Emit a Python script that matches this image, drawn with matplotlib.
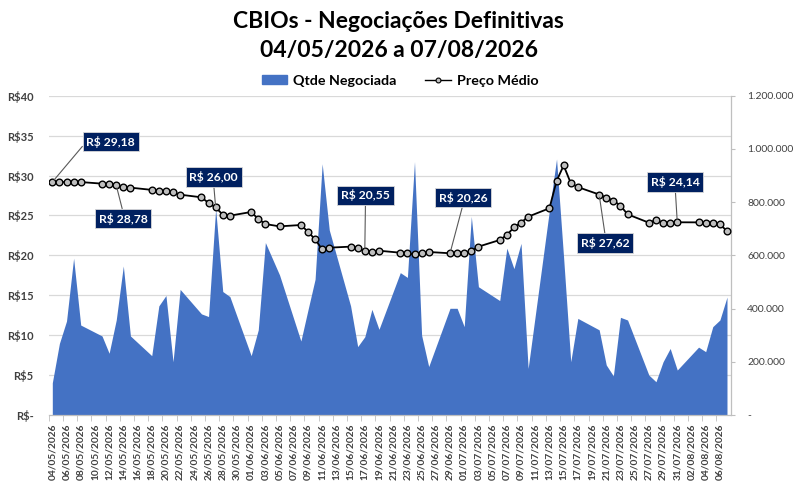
import matplotlib
matplotlib.use("Agg")
import matplotlib.pyplot as plt
import matplotlib.dates as mdates
from matplotlib.patches import Patch
from matplotlib.lines import Line2D
from matplotlib.ticker import FuncFormatter, FixedLocator
import pandas as pd

plt.rcParams["font.family"] = ["Lato", "DejaVu Sans"]

# ── dados ────────────────────────────────────────────────
datas = [
    "04/05/2026", "05/05/2026", "06/05/2026", "07/05/2026", "08/05/2026",
    "11/05/2026", "12/05/2026", "13/05/2026", "14/05/2026", "15/05/2026",
    "18/05/2026", "19/05/2026", "20/05/2026", "21/05/2026", "22/05/2026",
    "25/05/2026", "26/05/2026", "27/05/2026", "28/05/2026", "29/05/2026",
    "01/06/2026", "02/06/2026", "03/06/2026", "05/06/2026",
    "08/06/2026", "09/06/2026", "10/06/2026", "11/06/2026", "12/06/2026",
    "15/06/2026", "16/06/2026", "17/06/2026", "18/06/2026", "19/06/2026",
    "22/06/2026", "23/06/2026", "24/06/2026", "25/06/2026", "26/06/2026",
    "29/06/2026", "30/06/2026", "01/07/2026", "02/07/2026", "03/07/2026",
    "06/07/2026", "07/07/2026", "08/07/2026", "09/07/2026", "10/07/2026",
    "13/07/2026", "14/07/2026", "15/07/2026", "16/07/2026", "17/07/2026",
    "20/07/2026", "21/07/2026", "22/07/2026", "23/07/2026", "24/07/2026",
    "27/07/2026", "28/07/2026", "29/07/2026", "30/07/2026", "31/07/2026",
    "03/08/2026", "04/08/2026", "05/08/2026", "06/08/2026", "07/08/2026",
]

qtde = [
    121000, 269000, 353000, 589000, 338000,
    297000, 232000, 357000, 560000, 297000,
    223000, 410000, 449000, 200000, 472000,
    380000, 370000, 775000, 464000, 445000,
    223000, 320000, 648000, 526000,
    278000, 395000, 510000, 944000, 695000,
    410000, 257000, 294000, 397000, 322000,
    535000, 517000, 952000, 300000, 182000,
    401000, 401000, 332000, 746000, 482000,
    430000, 627000, 550000, 645000, 175000,
    770000, 962000, 590000, 200000, 363000,
    320000, 188000, 147000, 367000, 357000,
    150000, 125000, 200000, 250000, 169000,
    255000, 238000, 332000, 357000, 443000,
]

preco = [
    29.18, 29.18, 29.18, 29.18, 29.18,
    28.98, 28.90, 28.78, 28.50, 28.48,
    28.20, 28.06, 28.06, 27.90, 27.60,
    27.27, 26.56, 26.00, 25.10, 24.97,
    25.43, 24.55, 23.92, 23.63,
    23.80, 22.96, 22.00, 20.75, 20.96,
    21.09, 20.96, 20.55, 20.46, 20.58,
    20.33, 20.25, 20.13, 20.25, 20.42,
    20.26, 20.25, 20.25, 20.54, 21.09,
    21.92, 22.55, 23.50, 24.09, 24.84,
    25.90, 29.30, 31.26, 29.05, 28.55,
    27.62, 27.22, 26.85, 26.22, 25.14,
    24.09, 24.43, 24.09, 24.09, 24.14,
    24.13, 24.09, 24.05, 23.88, 23.05,
]

# datas com rótulo de preço
datas_rotulo = ["04/05/2026", "13/05/2026", "27/05/2026", "17/06/2026",
                "29/06/2026", "20/07/2026", "31/07/2026"]

AZUL = "#4472C4"
NAVY = "#002060"
CINZA_GRADE = "#d9d9d9"
CINZA_TXT = "#404040"

dias = pd.to_datetime(datas, dayfirst=True)
x = mdates.date2num(dias)

fig = plt.figure(figsize=(8.1, 4.82), dpi=100)
ax_q = fig.add_axes([0.0602, 0.139, 0.8417, 0.6625])
ax_p = ax_q.twinx()

# área - quantidade negociada (eixo direito)
for v in range(150000, 1200001, 150000):
    ax_q.axhline(v, color=CINZA_GRADE, lw=0.9, zorder=0.5)
ax_q.fill_between(x, qtde, color=AZUL, lw=0, zorder=1)
ax_q.set_ylim(0, 1200000)
ax_q.yaxis.tick_right()
ax_q.yaxis.set_major_locator(FixedLocator(range(0, 1200001, 200000)))
ax_q.yaxis.set_major_formatter(FuncFormatter(
    lambda v, p: "-" if v == 0 else f"{int(v):,}".replace(",", ".")))
ax_q.tick_params(axis="y", right=True, length=3, color="#bfbfbf", pad=9,
                 labelsize=7.5, labelcolor=CINZA_TXT)

# eixo x por data
ax_q.set_xlim(x[0] - 0.5, x[-1] + 0.5)
ticks = pd.date_range(dias[0], dias[-1], freq="2D")
tk = mdates.date2num(ticks)
ax_q.xaxis.set_major_locator(FixedLocator(tk))
ax_q.xaxis.set_minor_locator(FixedLocator(list(tk - 0.5)))
ax_q.xaxis.set_major_formatter(mdates.DateFormatter("%d/%m/%Y"))
ax_q.tick_params(axis="x", which="major", length=0, pad=6, labelsize=7.3,
                 labelrotation=90, labelcolor=CINZA_TXT)
ax_q.tick_params(axis="x", which="minor", length=4, color="#bfbfbf")
for lab in ax_q.get_xticklabels():
    lab.set_fontweight("bold")

for s in ["top", "left"]:
    ax_q.spines[s].set_visible(False)
for s in ["right", "bottom"]:
    ax_q.spines[s].set_color("#bfbfbf")
    ax_q.spines[s].set_linewidth(0.9)

# linha - preço médio (eixo esquerdo)
ax_p.plot(x, preco, color="black", lw=1.3, marker="o", ms=4.8,
          mfc="#bfbfbf", mec="black", mew=1.0, zorder=3)
ax_p.set_ylim(0, 40)
ax_p.yaxis.tick_left()
ax_p.yaxis.set_major_locator(FixedLocator(range(0, 41, 5)))
ax_p.yaxis.set_major_formatter(FuncFormatter(
    lambda v, p: "R$-" if v == 0 else f"R${int(v)}"))
ax_p.tick_params(axis="y", left=True, right=False, length=0, pad=11,
                 labelsize=8, labelcolor=CINZA_TXT)
for lab in ax_p.get_yticklabels():
    lab.set_fontweight("bold")
for s in ax_p.spines.values():
    s.set_visible(False)

# rótulos de preço
offsets = [(42, 29), (5, -24), (-1.5, 22), (0.5, 40), (9.5, 40),
           (4.5, -35), (-1.5, 29)]
relpos = [(0, 0.5), (0.5, 1), (0.5, 0), (0.5, 0), (0.5, 0), (0.5, 1),
          (0.5, 0)]
for d, off, rp in zip(datas_rotulo, offsets, relpos):
    i = datas.index(d)
    txt = f"R$ {preco[i]:.2f}".replace(".", ",")
    ax_p.annotate(txt, xy=(x[i], preco[i]), xytext=off,
                  textcoords="offset points", ha="center", va="center",
                  color="white", fontsize=8.7, fontweight="bold", zorder=5,
                  bbox=dict(boxstyle="square,pad=0.3", fc=NAVY,
                            ec="#d9d9d9", lw=0.6),
                  arrowprops=dict(arrowstyle="-", color="#595959", lw=0.8,
                                  relpos=rp, shrinkA=0, shrinkB=2))

# título
fig.text(0.492, 1 - 22 / 482, "CBIOs - Negociações Definitivas",
         ha="center", va="center", fontsize=16.5, fontweight="bold",
         color="black")
fig.text(0.492, 1 - 50 / 482, "04/05/2026 a 07/08/2026",
         ha="center", va="center", fontsize=16.5, fontweight="bold",
         color="black")

# legenda
handles = [Patch(facecolor=AZUL, edgecolor=AZUL),
           Line2D([], [], color="black", lw=1, marker="o", ms=3.5,
                  mfc="#bfbfbf", mec="black", mew=0.8)]
fig.legend(handles, ["Qtde Negociada", "Preço Médio"], ncol=2,
           loc="center", bbox_to_anchor=(400 / 810, 1 - 81 / 482),
           frameon=False, prop={"weight": "bold", "size": 10.3},
           handlelength=1.8, handleheight=0.6, columnspacing=2.0,
           handletextpad=0.4)

plt.savefig("out.png", dpi=100)
plt.close()
